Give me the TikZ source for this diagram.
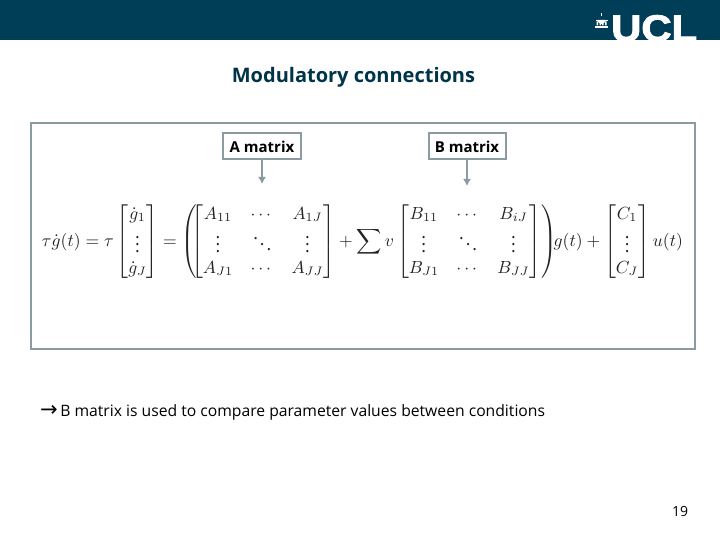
\documentclass[tikz,border=0pt]{standalone}
\usepackage{amsmath}
\usepackage{fontspec}
\setmainfont{Open Sans}
\newfontfamily\logofont[FakeBold=2.5]{Liberation Sans}
\definecolor{uclteal}{RGB}{0,61,87}
\definecolor{titleteal}{RGB}{0,52,72}
\definecolor{framegray}{RGB}{139,155,164}
\definecolor{eqgray}{RGB}{35,35,35}
\usetikzlibrary{arrows.meta}
\tikzset{
  labelbox/.style={draw=framegray,line width=2pt,fill=white,minimum width=78pt,minimum height=26pt,inner sep=0pt,font=\fontsize{15}{17}\selectfont\bfseries,text=black},
  pointer/.style={draw=framegray,line width=2pt,-{Latex[length=7pt,width=8pt]}},
}
\begin{document}
\begin{tikzpicture}[x=1pt,y=-1pt]
\useasboundingbox (0,0) rectangle (720,540);
\fill[white] (0,0) rectangle (720,540);
\fill[uclteal] (0,0) rectangle (720,40);
\begin{scope}
\clip (0,0) rectangle (720,40);
\node[anchor=base west,inner sep=0pt,text=white,font=\logofont\fontsize{37}{37}\selectfont\bfseries,xscale=1.13] (ucl) at (611,41) {UCL};
\end{scope}
% portico emblem
\fill[white] (601,13) rectangle (602,16.5);
\fill[white] (597.5,20) arc (180:0:4 and 4) -- cycle;
\fill[white] (595.5,20) rectangle (607.5,21);
\fill[white] (596.5,21.5) rectangle (598,25.5) (599.5,21.5) rectangle (601,25.5) (602,21.5) rectangle (603.5,25.5) (605,21.5) rectangle (606.5,25.5);
\fill[white] (595,26) rectangle (608,28);
\node[font=\fontsize{20}{24}\selectfont\bfseries,text=titleteal] (title) at (353.5,77) {Modulatory connections};
\node[draw=framegray,line width=2pt,minimum width=664pt,minimum height=226pt,inner sep=0pt] (frame) at (362.5,236) {};
\node[labelbox] (amat) at (262,146.5) {A matrix};
\node[labelbox,minimum width=77pt] (bmat) at (467,146.5) {B matrix};
\coordinate (atip) at (262,184);
\coordinate (btip) at (467,186);
\draw[pointer] (amat) -- (atip);
\draw[pointer] (bmat) -- (btip);
\node[text=eqgray,inner sep=0pt,font=\rmfamily] (eq) at (362.5,242) {\resizebox{641pt}{!}{$\displaystyle
\tau\dot g(t)=\tau\begin{bmatrix}\dot g_1\\ \vdots\\ \dot g_J\end{bmatrix}
=\left(\!\!\begin{bmatrix}A_{11}&\cdots&A_{1J}\\ \vdots&\ddots&\vdots\\ A_{J1}&\cdots&A_{JJ}\end{bmatrix}
+\sum v\begin{bmatrix}B_{11}&\cdots&B_{iJ}\\ \vdots&\ddots&\vdots\\ B_{J1}&\cdots&B_{JJ}\end{bmatrix}\right)\!\!g(t)+\begin{bmatrix}C_1\\ \vdots\\ C_J\end{bmatrix}u(t)$}};
\node[anchor=west,inner sep=0pt,text=black,font=\fontsize{15.7}{19}\selectfont] (note) at (40,412) {{\fontspec{DejaVu Sans}\fontsize{21}{21}\selectfont →}\hspace{2.5pt}B matrix is used to compare parameter values between conditions};
\node[font=\fontsize{14}{16}\selectfont,text=black] (page) at (680,511) {19};
\end{tikzpicture}
\end{document}
